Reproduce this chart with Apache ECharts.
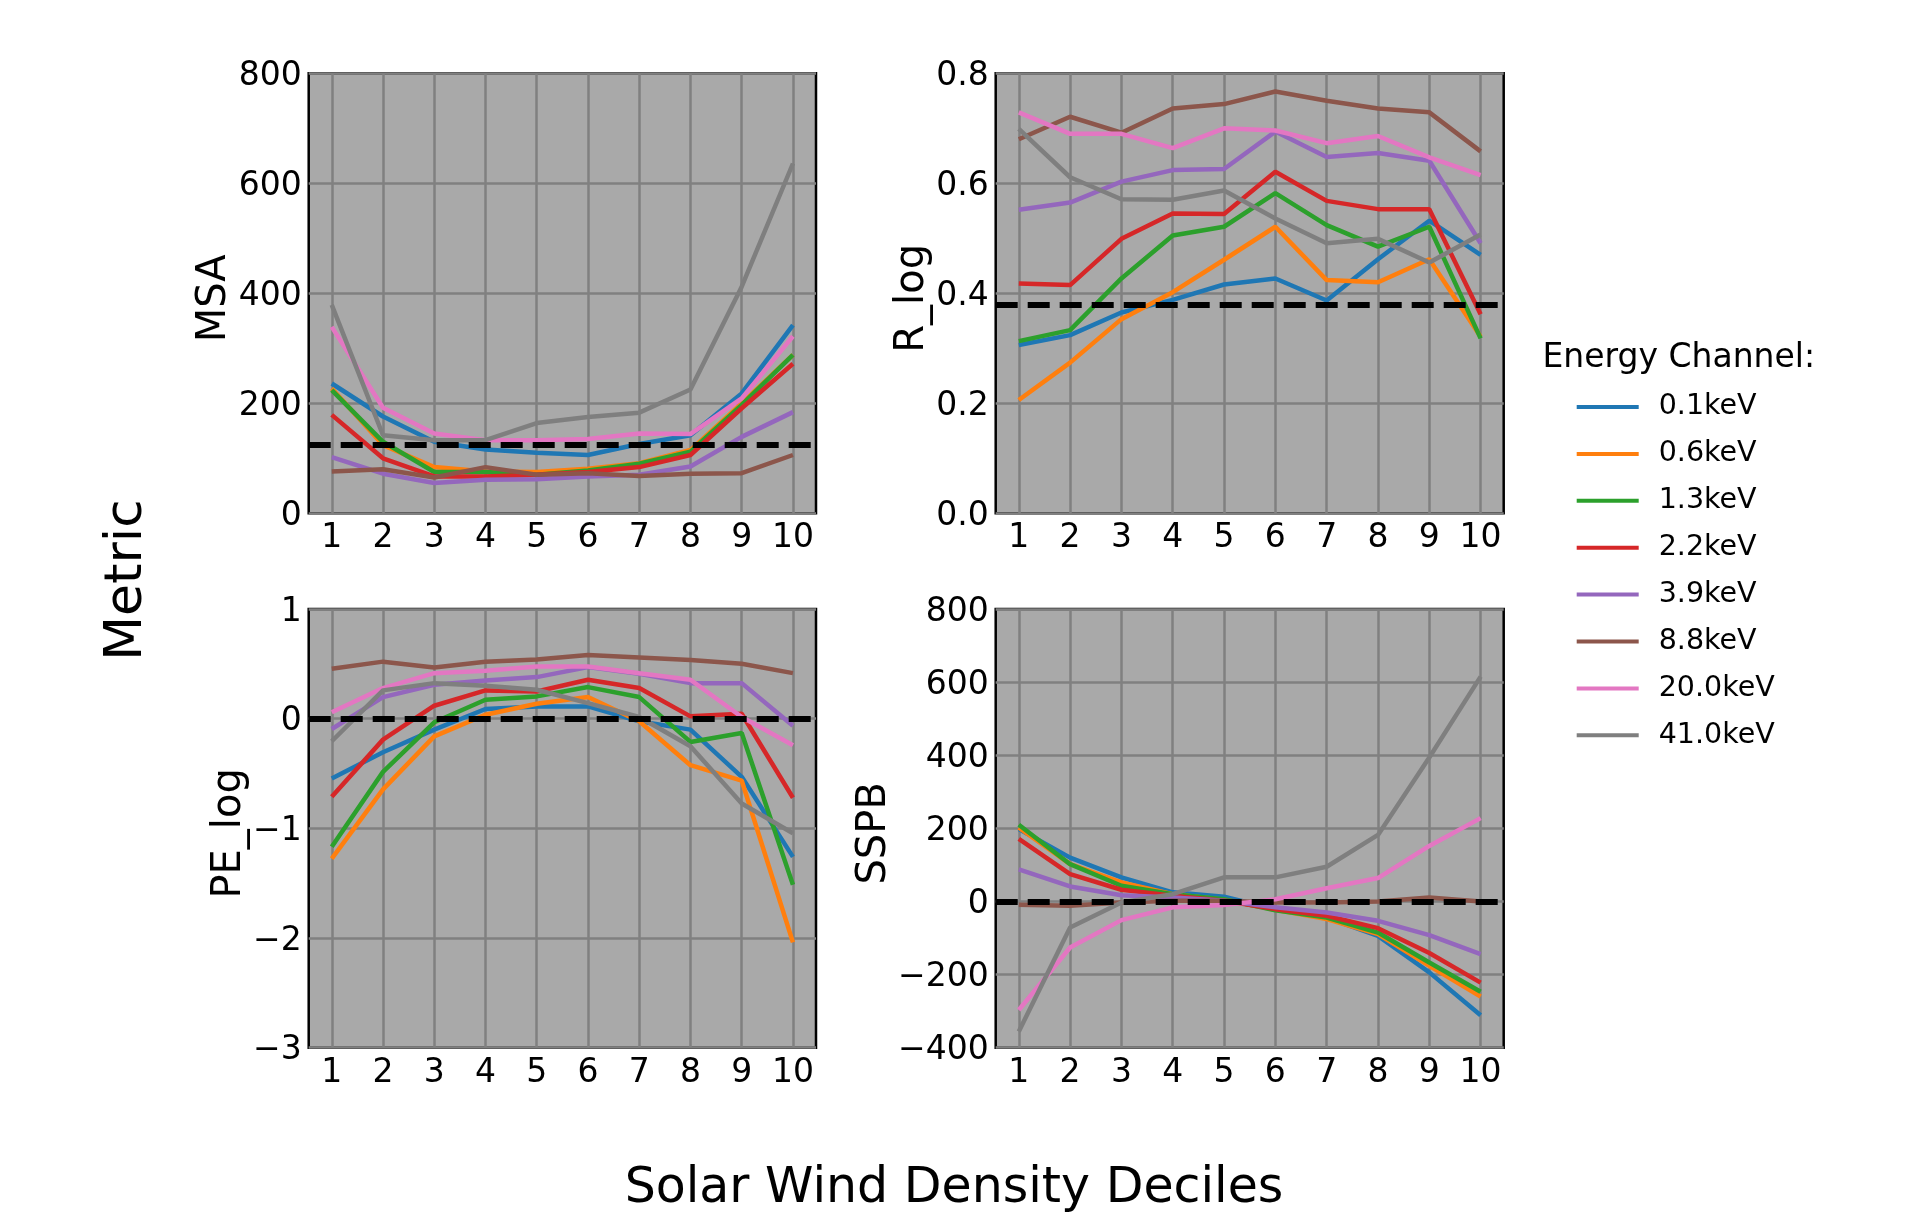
<!DOCTYPE html>
<html>
<head>
<meta charset="utf-8">
<script src="https://cdn.jsdelivr.net/npm/echarts@6/dist/echarts.min.js"></script>
<style>
  html, body { margin: 0; padding: 0; background: #ffffff; }
  #chart { width: 1909px; height: 1216px; }
</style>
</head>
<body>
<div id="chart"></div>
<script>
// Solar wind density deciles on the x axis of every panel
const deciles = [1, 2, 3, 4, 5, 6, 7, 8, 9, 10];

// Energy channels (one line per channel in every panel)
const channels = ['0.1keV', '0.6keV', '1.3keV', '2.2keV', '3.9keV', '8.8keV', '20.0keV', '41.0keV'];
const channelColors = ['#1f77b4', '#ff7f0e', '#2ca02c', '#d62728', '#9467bd', '#8c564b', '#e377c2', '#7f7f7f'];

// MSA per channel (rows follow `channels`)
const msaValues = [
  [236, 176, 130, 116, 110, 106, 126, 142, 218, 342],
  [227, 124, 84, 76, 75, 81, 91, 115, 200, 288],
  [224, 130, 75, 75, 70, 78, 90, 112, 197, 288],
  [179, 100, 67, 67, 70, 75, 84, 106, 191, 272],
  [102, 72, 55, 61, 62, 67, 70, 85, 139, 184],
  [76, 80, 65, 84, 70, 73, 68, 72, 73, 106],
  [339, 192, 145, 133, 133, 135, 145, 144, 209, 322],
  [379, 142, 133, 133, 164, 175, 183, 225, 412, 636]
];
const msaReference = 125;

// R_log per channel
const rlogValues = [
  [0.306, 0.324, 0.365, 0.388, 0.416, 0.427, 0.387, 0.462, 0.532, 0.470],
  [0.206, 0.274, 0.353, 0.402, 0.461, 0.521, 0.424, 0.420, 0.462, 0.321],
  [0.313, 0.333, 0.427, 0.505, 0.521, 0.582, 0.524, 0.485, 0.521, 0.318],
  [0.418, 0.415, 0.499, 0.545, 0.544, 0.621, 0.568, 0.553, 0.553, 0.362],
  [0.552, 0.565, 0.603, 0.624, 0.626, 0.694, 0.648, 0.655, 0.641, 0.491],
  [0.680, 0.721, 0.692, 0.736, 0.744, 0.767, 0.750, 0.736, 0.729, 0.658],
  [0.729, 0.690, 0.690, 0.664, 0.700, 0.696, 0.673, 0.686, 0.647, 0.615],
  [0.699, 0.611, 0.571, 0.570, 0.587, 0.536, 0.491, 0.499, 0.456, 0.507]
];
const rlogReference = 0.379;

// PE_log per channel
const pelogValues = [
  [-0.545, -0.306, -0.100, 0.088, 0.112, 0.112, -0.024, -0.100, -0.530, -1.260],
  [-1.276, -0.645, -0.161, 0.036, 0.136, 0.197, -0.024, -0.424, -0.564, -2.040],
  [-1.167, -0.485, -0.033, 0.173, 0.203, 0.288, 0.197, -0.212, -0.130, -1.515],
  [-0.712, -0.191, 0.118, 0.258, 0.248, 0.355, 0.279, 0.021, 0.045, -0.721],
  [-0.094, 0.197, 0.309, 0.348, 0.379, 0.470, 0.409, 0.324, 0.324, -0.064],
  [0.455, 0.520, 0.467, 0.520, 0.540, 0.580, 0.558, 0.536, 0.500, 0.415],
  [0.058, 0.279, 0.415, 0.436, 0.476, 0.476, 0.415, 0.355, 0.015, -0.242],
  [-0.206, 0.258, 0.324, 0.300, 0.264, 0.142, 0.015, -0.252, -0.773, -1.045]
];
const pelogReference = 0;

// SSPB per channel
const sspbValues = [
  [198, 120, 66, 25, 13, -21, -44, -94, -194, -311],
  [202, 102, 52, 20, 5, -23, -48, -89, -176, -260],
  [210, 102, 43, 20, 6, -24, -44, -85, -167, -247],
  [171, 75, 32, 16, 2, -21, -39, -73, -141, -222],
  [88, 41, 17, 11, 2, -16, -30, -53, -92, -144],
  [-9, -12, -3, 2, 2, -3, -3, 0, 11, 0],
  [-297, -126, -51, -16, -10, 6, 36, 64, 152, 228],
  [-356, -71, -3, 20, 66, 66, 95, 182, 394, 615]
];
const sspbReference = 0;

const FONT = 'DejaVu Sans';
const minusSign = v => String(v).replace('-', '\u2212');

// Panel layout: grid rectangles in pixels, axis ranges and label formats
const panels = [
  { title: 'MSA', values: msaValues, ref: msaReference, min: 0, max: 800, interval: 200,
    fmt: v => minusSign(Math.round(v)), rect: [308.7, 73.3, 507.3, 440], nameGap: 66 },
  { title: 'R_log', values: rlogValues, ref: rlogReference, min: 0, max: 0.8, interval: 0.2,
    fmt: v => v.toFixed(1), rect: [995.7, 73.3, 508, 440], nameGap: 58 },
  { title: 'PE_log', values: pelogValues, ref: pelogReference, min: -3, max: 1, interval: 1,
    fmt: v => minusSign(Math.round(v)), rect: [308.7, 609, 507.3, 438.7], nameGap: 53 },
  { title: 'SSPB', values: sspbValues, ref: sspbReference, min: -400, max: 800, interval: 200,
    fmt: v => minusSign(Math.round(v)), rect: [995.7, 609, 508, 438.7], nameGap: 95 }
];

const grids = [], xAxes = [], yAxes = [], series = [];

panels.forEach((p, i) => {
  grids.push({
    left: p.rect[0], top: p.rect[1], width: p.rect[2], height: p.rect[3],
    show: true, backgroundColor: '#a9a9a9', borderColor: '#000000', borderWidth: 2.5,
    containLabel: false
  });
  xAxes.push({
    type: 'value', gridIndex: i, min: 0.55, max: 10.45,
    axisLine: { show: false },
    axisTick: { show: false, customValues: deciles },
    axisLabel: { customValues: deciles, fontFamily: FONT, fontSize: 33, color: '#000', margin: 9 },
    splitLine: { show: true, lineStyle: { color: '#808080', width: 2.5 } }
  });
  yAxes.push({
    type: 'value', gridIndex: i, min: p.min, max: p.max, interval: p.interval,
    name: p.title, nameLocation: 'middle', nameGap: p.nameGap,
    nameTextStyle: { fontFamily: FONT, fontSize: 40, color: '#000', padding: [0, 10, 0, 0] },
    axisLine: { show: false },
    axisTick: { show: false },
    axisLabel: { formatter: p.fmt, fontFamily: FONT, fontSize: 33, color: '#000', margin: 7,
                 verticalAlign: 'top', lineHeight: 6 },
    splitLine: { show: true, lineStyle: { color: '#808080', width: 2.5 } }
  });
  p.values.forEach((row, c) => {
    series.push({
      type: 'line', name: channels[c], xAxisIndex: i, yAxisIndex: i,
      data: deciles.map((d, k) => [d, row[k]]),
      symbol: 'none', showSymbol: false,
      lineStyle: { width: 4.5, color: channelColors[c] },
      itemStyle: { color: channelColors[c] },
      emphasis: { disabled: true },
      animation: false
    });
  });
  // dashed black reference level
  series.push({
    type: 'line', xAxisIndex: i, yAxisIndex: i, data: [],
    animation: false,
    markLine: {
      silent: true, symbol: 'none', animation: false,
      label: { show: false },
      lineStyle: { color: '#000000', width: 6, type: [22, 10], opacity: 1 },
      emphasis: { disabled: true },
      data: [{ yAxis: p.ref }]
    }
  });
});

const chart = echarts.init(document.getElementById('chart'), null, { renderer: 'canvas' });
chart.setOption({
  backgroundColor: '#ffffff',
  animation: false,
  color: channelColors,
  grid: grids,
  xAxis: xAxes,
  yAxis: yAxes,
  series: series,
  legend: {
    data: channels, orient: 'vertical', left: 1576.7, top: 392.5, padding: 0,
    icon: 'rect', itemWidth: 62, itemHeight: 4, itemGap: 17.9, selectedMode: false,
    textStyle: { fontFamily: FONT, fontSize: 28.5, color: '#000', lineHeight: 28, padding: [0, 0, 0, 15] }
  },
  graphic: [
    { type: 'text', x: 127.5, y: 580, rotation: Math.PI / 2,
      style: { text: 'Metric', fontFamily: FONT, fontSize: 52, fill: '#000',
               align: 'center', verticalAlign: 'middle', textAlign: 'center', textVerticalAlign: 'middle' } },
    { type: 'text', x: 954, y: 1189,
      style: { text: 'Solar Wind Density Deciles', fontFamily: FONT, fontSize: 49, fill: '#000',
               align: 'center', verticalAlign: 'middle', textAlign: 'center', textVerticalAlign: 'middle' } },
    { type: 'text', x: 1542.5, y: 358,
      style: { text: 'Energy Channel:', fontFamily: FONT, fontSize: 33, fill: '#000',
               align: 'left', verticalAlign: 'middle', textAlign: 'left', textVerticalAlign: 'middle' } }
  ]
});
</script>
</body>
</html>
